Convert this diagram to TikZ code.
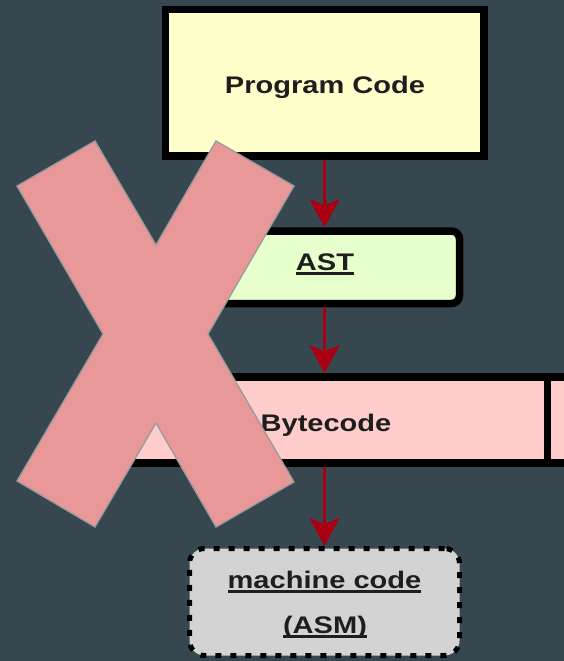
\documentclass[tikz,border=0pt]{standalone}
\usepackage{fontspec}
\usepackage{graphicx}
\setmainfont{Liberation Sans}
\usetikzlibrary{arrows.meta}

\definecolor{bgslate}{HTML}{37474F}
\definecolor{codeyellow}{HTML}{FFFFCC}
\definecolor{astgreen}{HTML}{E6FFCC}
\definecolor{bytepink}{HTML}{FFCCCC}
\definecolor{asmgray}{HTML}{D3D3D3}
\definecolor{flowred}{HTML}{A80012}
\definecolor{crossfill}{HTML}{E89898}
\definecolor{crossedge}{HTML}{9A9A9A}
\definecolor{inktext}{HTML}{1E1E1E}

% underlined word with a heavy rule
\newcommand\ulined[1]{\sbox0{#1}\usebox0\llap{\rule[-4.8pt]{\wd0}{2.6pt}}}
% wide bold label
\newcommand\wlabel[1]{\scalebox{1.21}[1]{\fontsize{24}{28}\selectfont\bfseries #1}}

\tikzset{
  stagebox/.style={draw=black, line width=7.5pt, inner sep=0pt, outer sep=auto},
  flow/.style={draw=flowred, line width=3pt,
    -{Stealth[length=28pt, width=30pt, inset=6pt]}},
  lbl/.style={anchor=base, inner sep=0pt, text=inktext},
  xmark/.style={fill=crossfill, draw=crossedge, line width=1.3pt, line join=miter},
}

\begin{document}
\begin{tikzpicture}[x=1pt, y=-1pt]
  \fill[bgslate] (0,0) rectangle (564,661);
  \clip (0,0) rectangle (564,661);
  \useasboundingbox (0,0) rectangle (564,661);

  % compilation stages
  \node[stagebox, fill=codeyellow, minimum width=318.5pt, minimum height=146.5pt]
    (code) at (324.75,82.75) {};
  \node[stagebox, fill=astgreen, rounded corners=8pt, minimum width=270pt, minimum height=72.5pt]
    (ast) at (324.5,267.25) {};
  \node[stagebox, fill=bytepink, minimum width=443pt, minimum height=86pt]
    (bc) at (326,420) {};
  \node[stagebox, fill=bytepink, minimum width=160pt, minimum height=86pt]
    (next) at (627.5,420) {};
  \node[draw=black, fill=asmgray, line width=5pt, dash pattern=on 6pt off 9pt,
        rounded corners=15pt, inner sep=0pt, outer sep=auto,
        minimum width=270pt, minimum height=107pt]
    (asm) at (324.5,602) {};

  % flow between stages
  \draw[flow] (code.south -| ast.north) -- (ast.north);
  \draw[flow] (ast.south) -- (ast.south |- bc.north);
  \draw[flow] (ast.south |- bc.south) -- (asm.north);

  % labels
  \node[lbl] (tcode) at (325,93.5) {\wlabel{Program Code}};
  \node[lbl] (tast) at (325,270) {\wlabel{\ulined{AST}}};
  \node[lbl] (tbc) at (326,431) {\wlabel{Bytecode}};
  \node[lbl] (tmc) at (324.5,588) {\wlabel{\ulined{machine code}}};
  \node[lbl] (tasm) at (325,633) {\wlabel{\ulined{(ASM)}}};

  % cross laid over the pipeline
  \draw[xmark] (95,141) -- (156,245) -- (216,141) -- (294,186) -- (208,334)
    -- (294,482) -- (216,527) -- (156,423) -- (95,527) -- (17,481)
    -- (103,334) -- (17,186) -- cycle;
\end{tikzpicture}
\end{document}
